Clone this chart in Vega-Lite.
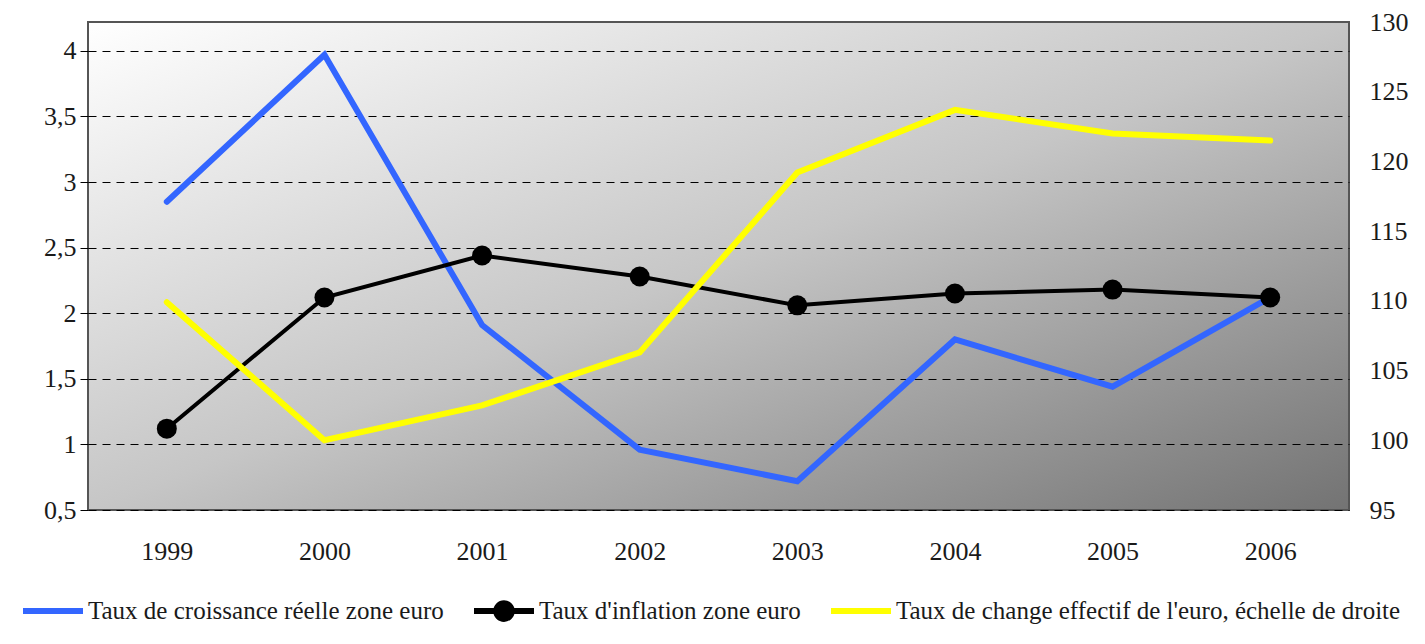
{
  "$schema": "https://vega.github.io/schema/vega-lite/v6.json",
  "width": 1261,
  "height": 488,
  "autosize": {"type": "none"},
  "padding": {"left": 88, "top": 22, "right": 76, "bottom": 134},
  "background": "#ffffff",
  "config": {
    "view": {
      "fill": {"gradient": "linear", "x1": 0, "y1": 0, "x2": 1, "y2": 1,
        "stops": [{"offset": 0, "color": "#ffffff"}, {"offset": 0.5, "color": "#c6c6c6"}, {"offset": 1, "color": "#737373"}]},
      "stroke": "#555555",
      "strokeWidth": 2
    },
    "font": "Liberation Serif"
  },
  "data": {
    "values": [
      {"year": "1999", "series": "Taux de croissance réelle zone euro", "value": 2.85},
      {"year": "2000", "series": "Taux de croissance réelle zone euro", "value": 3.97},
      {"year": "2001", "series": "Taux de croissance réelle zone euro", "value": 1.91},
      {"year": "2002", "series": "Taux de croissance réelle zone euro", "value": 0.96},
      {"year": "2003", "series": "Taux de croissance réelle zone euro", "value": 0.72},
      {"year": "2004", "series": "Taux de croissance réelle zone euro", "value": 1.80},
      {"year": "2005", "series": "Taux de croissance réelle zone euro", "value": 1.44},
      {"year": "2006", "series": "Taux de croissance réelle zone euro", "value": 2.12},
      {"year": "1999", "series": "Taux d'inflation zone euro", "value": 1.12},
      {"year": "2000", "series": "Taux d'inflation zone euro", "value": 2.12},
      {"year": "2001", "series": "Taux d'inflation zone euro", "value": 2.44},
      {"year": "2002", "series": "Taux d'inflation zone euro", "value": 2.28},
      {"year": "2003", "series": "Taux d'inflation zone euro", "value": 2.06},
      {"year": "2004", "series": "Taux d'inflation zone euro", "value": 2.15},
      {"year": "2005", "series": "Taux d'inflation zone euro", "value": 2.18},
      {"year": "2006", "series": "Taux d'inflation zone euro", "value": 2.12},
      {"year": "1999", "series": "Taux de change effectif de l'euro, échelle de droite", "value": 109.9},
      {"year": "2000", "series": "Taux de change effectif de l'euro, échelle de droite", "value": 100.0},
      {"year": "2001", "series": "Taux de change effectif de l'euro, échelle de droite", "value": 102.5},
      {"year": "2002", "series": "Taux de change effectif de l'euro, échelle de droite", "value": 106.3},
      {"year": "2003", "series": "Taux de change effectif de l'euro, échelle de droite", "value": 119.2},
      {"year": "2004", "series": "Taux de change effectif de l'euro, échelle de droite", "value": 123.7},
      {"year": "2005", "series": "Taux de change effectif de l'euro, échelle de droite", "value": 122.0},
      {"year": "2006", "series": "Taux de change effectif de l'euro, échelle de droite", "value": 121.5}
    ]
  },
  "encoding": {
    "x": {
      "field": "year", "type": "ordinal", "title": null,
      "scale": {"type": "point", "padding": 0.5},
      "axis": {"labelAngle": 0, "domain": false, "ticks": false, "grid": false, "labelPadding": 28,
        "labelFont": "Liberation Serif", "labelFontSize": 26, "labelColor": "#1a1a1a"}
    },
    "color": {
      "field": "series", "type": "nominal",
      "scale": {
        "domain": ["Taux de croissance réelle zone euro", "Taux d'inflation zone euro", "Taux de change effectif de l'euro, échelle de droite"],
        "range": ["#3366ff", "#000000", "#ffff00"]
      },
      "legend": {
        "orient": "none", "direction": "horizontal", "legendX": -68, "legendY": 556,
        "title": null, "symbolType": "stroke", "symbolSize": 3600, "symbolStrokeWidth": 6,
        "labelFont": "Liberation Serif", "labelFontSize": 25, "labelColor": "#1a1a1a",
        "labelLimit": 0, "labelOffset": 2, "columnPadding": 18,
        "encode": {
          "symbols": {
            "update": {
              "shape": {"signal": "datum.index === 1 ? 'M-1,0H1M0.26,0A0.26,0.26,0,1,1,-0.26,0A0.26,0.26,0,1,1,0.26,0Z' : 'M-1,0H1M0,-0.26H0M0,0.26H0'"},
              "fill": {"signal": "datum.index === 1 ? '#000000' : 'transparent'"}
            }
          }
        }
      }
    }
  },
  "layer": [
    {
      "encoding": {
        "y": {
          "field": "value", "type": "quantitative", "title": null,
          "scale": {"domain": [0.5, 4.22], "nice": false, "zero": false},
          "axis": {
            "values": [0.5, 1, 1.5, 2, 2.5, 3, 3.5, 4],
            "labelExpr": "replace(format(datum.value, '.1~f'), '.', ',')",
            "grid": true, "gridDash": [8, 6], "gridColor": "#000000", "gridWidth": 1,
            "ticks": true, "tickSize": 8, "tickColor": "#000000", "domain": false, "labelPadding": 4,
            "labelFont": "Liberation Serif", "labelFontSize": 26, "labelColor": "#1a1a1a"
          }
        }
      },
      "layer": [
        {
          "transform": [{"filter": "datum.series === 'Taux de croissance réelle zone euro'"}],
          "mark": {"type": "line", "strokeWidth": 6, "strokeCap": "round", "strokeJoin": "miter"}
        },
        {
          "transform": [{"filter": "datum.series === \"Taux d'inflation zone euro\""}],
          "mark": {"type": "line", "strokeWidth": 4, "point": {"size": 400, "filled": true, "color": "#000000", "opacity": 1}}
        }
      ]
    },
    {
      "transform": [{"filter": "datum.series === \"Taux de change effectif de l'euro, échelle de droite\""}],
      "mark": {"type": "line", "strokeWidth": 6, "strokeCap": "round"},
      "encoding": {
        "y": {
          "field": "value", "type": "quantitative", "title": null,
          "scale": {"domain": [95, 130], "nice": false, "zero": false},
          "axis": {
            "orient": "right", "values": [95, 100, 105, 110, 115, 120, 125, 130],
            "grid": false, "ticks": false, "domain": false, "labelPadding": 20,
            "labelFont": "Liberation Serif", "labelFontSize": 26, "labelColor": "#1a1a1a"
          }
        }
      }
    }
  ],
  "resolve": {"scale": {"y": "independent"}}
}
